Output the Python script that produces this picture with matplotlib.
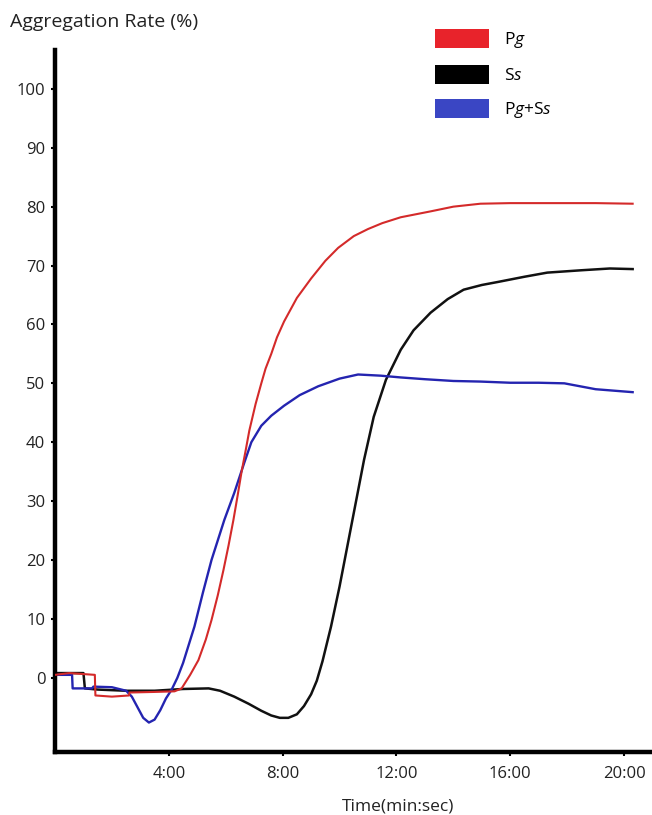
import matplotlib
matplotlib.use("Agg")
import matplotlib.pyplot as plt
from matplotlib.patches import Patch

# ---- data (time in minutes, aggregation rate in %) ----
pg_t = [0.0, 0.5, 1.4, 1.42, 2.0, 2.6, 2.62, 3.5, 4.2, 4.45, 4.75, 5.04, 5.3, 5.5, 5.72,
        5.92, 6.1, 6.27, 6.42, 6.55, 6.7, 6.83, 7.05, 7.25, 7.4, 7.6, 7.8, 8.05, 8.5, 9.0,
        9.5, 9.95, 10.5, 11.0, 11.5, 12.15, 13.2, 14.0, 14.95, 16.0, 17.0, 18.0, 19.0, 20.3]
pg_v = [0.5, 0.8, 0.5, -3.0, -3.2, -3.0, -2.5, -2.4, -2.3, -1.8, 0.5, 3.0, 6.5, 9.8, 14.0,
        18.3, 22.5, 26.8, 31.0, 34.8, 38.6, 42.0, 46.5, 50.0, 52.5, 55.0, 57.8, 60.5, 64.5,
        67.8, 70.8, 73.0, 75.0, 76.2, 77.2, 78.2, 79.2, 80.0, 80.5, 80.6, 80.6, 80.6, 80.6,
        80.5]

ss_t = [0.0, 1.0, 1.05, 1.5, 2.5, 3.5, 4.5, 5.4, 5.8, 6.3, 6.8, 7.25, 7.6, 7.9, 8.2, 8.5,
        8.75, 9.0, 9.2, 9.4, 9.7, 10.0, 10.16, 10.5, 10.86, 11.2, 11.63, 12.15, 12.6, 13.2,
        13.8, 14.36, 15.0, 15.55, 16.5, 17.3, 18.5, 19.5, 20.3]
ss_v = [0.8, 0.8, -1.8, -2.0, -2.2, -2.2, -1.9, -1.8, -2.2, -3.2, -4.4, -5.6, -6.4, -6.8,
        -6.8, -6.2, -4.8, -2.8, -0.5, 2.8, 8.7, 15.5, 19.5, 28.0, 37.0, 44.3, 50.6, 55.7,
        59.0, 62.0, 64.3, 65.9, 66.7, 67.2, 68.1, 68.8, 69.2, 69.5, 69.4]

pgss_t = [0.0, 0.6, 0.62, 1.3, 1.35, 2.0, 2.5, 2.7, 2.9, 3.1, 3.3, 3.5, 3.7, 3.9, 4.1, 4.3,
          4.5, 4.9, 5.2, 5.5, 5.95, 6.3, 6.65, 6.9, 7.25, 7.6, 8.05, 8.6, 9.25, 10.0, 10.65,
          11.45, 12.15, 13.0, 14.0, 14.95, 16.0, 17.0, 17.9, 19.0, 20.3]
pgss_v = [0.5, 0.5, -1.8, -1.8, -1.5, -1.6, -2.2, -3.2, -5.0, -6.8, -7.6, -7.1, -5.5, -3.5,
          -2.0, 0.0, 2.5, 8.7, 14.5, 20.0, 26.8, 31.4, 36.5, 40.0, 42.8, 44.5, 46.2, 48.0,
          49.5, 50.8, 51.5, 51.3, 51.0, 50.7, 50.4, 50.3, 50.1, 50.1, 50.0, 49.0, 48.5]

x_ticks = [4, 8, 12, 16, 20]
x_ticklabels = ["4:00", "8:00", "12:00", "16:00", "20:00"]
y_ticks = list(range(0, 101, 10))

# ---- figure ----
plt.rcParams['font.family'] = ['Open Sans', 'DejaVu Sans']
plt.rcParams['mathtext.fontset'] = 'custom'
plt.rcParams['mathtext.rm'] = 'Open Sans'
plt.rcParams['mathtext.it'] = 'Open Sans:italic'

fig = plt.figure(figsize=(6.52, 8.15), dpi=100)
ax = fig.add_axes([55/652, 1 - 752/815, 1 - 55/652, (752 - 50)/815])

ax.plot(pg_t, pg_v, color='#d42a2a', lw=1.5, zorder=3)
ax.plot(pgss_t, pgss_v, color='#2424b0', lw=1.7, zorder=2)
ax.plot(ss_t, ss_v, color='#111111', lw=1.8, zorder=1)

ax.set_xlim(0, 20.98)
ax.set_ylim(-12.6, 106.6)

for s in ['top', 'right']:
    ax.spines[s].set_visible(False)
for s in ['left', 'bottom']:
    ax.spines[s].set_linewidth(3.2)
    ax.spines[s].set_color('black')

ax.set_xticks(x_ticks)
ax.set_xticklabels(x_ticklabels)
ax.set_yticks(y_ticks)
ax.tick_params(axis='both', length=3, width=1.5, labelsize=12, colors='black',
               labelcolor='#222222')
ax.tick_params(axis='x', pad=7)
ax.tick_params(axis='y', pad=4)

ax.set_xlabel("Time(min:sec)", fontsize=12.5, color='#222222')
ax.xaxis.set_label_coords((398 - 55) / 597, -0.066)

fig.text(10/652, 1 - 22/815, "Aggregation Rate (%)", fontsize=14, color='#222222',
         ha='left', va='center')

handles = [Patch(facecolor='#e8232b', edgecolor='none'),
           Patch(facecolor='#000000', edgecolor='none'),
           Patch(facecolor='#3a46c4', edgecolor='none')]
labels = [r"P$\mathit{g}$", r"S$\mathit{s}$", r"P$\mathit{g}$+S$\mathit{s}$"]
ax.legend(handles, labels, loc='upper left', bbox_to_anchor=(435/652, 1 - 29/815),
          bbox_transform=fig.transFigure, frameon=False, fontsize=12.5,
          handlelength=3.1, handleheight=1.3, labelspacing=0.85, handletextpad=0.9,
          borderpad=0, borderaxespad=0)

fig.savefig("out.png", dpi=100)
